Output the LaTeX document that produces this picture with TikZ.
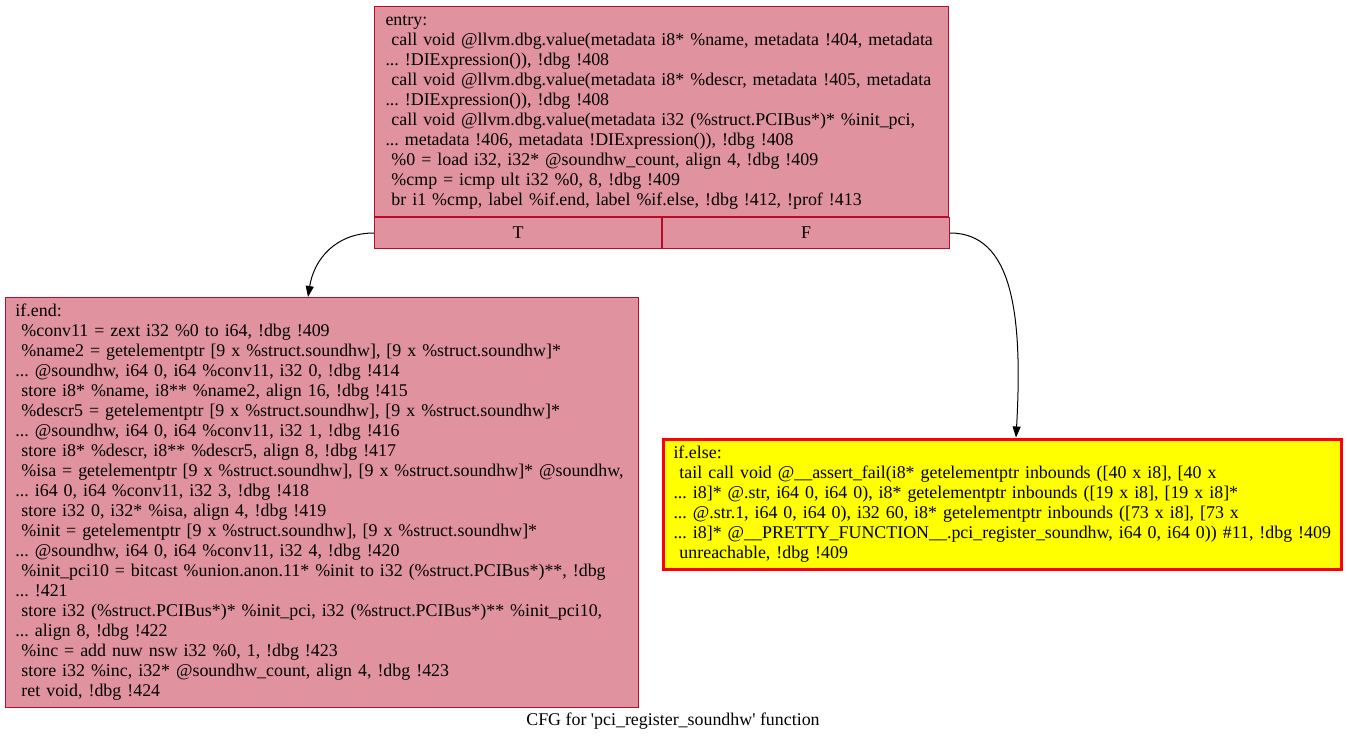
\documentclass[tikz,border=0pt]{standalone}
\usepackage{fontspec}
\setmainfont{Liberation Serif}[Ligatures=TeXOff]
\usetikzlibrary{arrows.meta,positioning}
\definecolor{heatfill}{RGB}{224,147,158}
\definecolor{heatline}{RGB}{183,13,40}
\definecolor{failfill}{RGB}{255,255,0}
\definecolor{failline}{RGB}{255,0,0}
\frenchspacing
\tikzset{
  block/.style={draw=heatline, fill=heatfill, line width=1pt, anchor=north west,
    inner xsep=11pt, inner ysep=0pt, align=left,
    font=\fontsize{17.9}{20}\selectfont},
  cell/.style={draw=heatline, fill=heatfill, line width=1pt, anchor=north west,
    minimum width=287pt, minimum height=31pt, inner sep=0pt,
    font=\fontsize{17.9}{20}\selectfont},
  failblock/.style={block, draw=failline, fill=failfill, line width=3pt},
  flow/.style={line width=1pt, -{Triangle[length=11pt,width=8pt]}}
}
\begin{document}
\begin{tikzpicture}[x=1pt,y=-1pt]
    \useasboundingbox (0,0) rectangle (1347,744);
    % entry block with its T / F row
    \node [block, text width=552pt, minimum height=210pt] (entry) at (374,6) {%
      \begin{tabular}{@{}l@{}}
      entry:\\
      \ call void @llvm.dbg.value(metadata i8* \%name, metadata !404, metadata\\
      ... !DIExpression()), !dbg !408\\
      \ call void @llvm.dbg.value(metadata i8* \%descr, metadata !405, metadata\\
      ... !DIExpression()), !dbg !408\\
      \ call void @llvm.dbg.value(metadata i32 (\%struct.PCIBus*)* \%init\_pci,\\
      ... metadata !406, metadata !DIExpression()), !dbg !408\\
      \ \%0 = load i32, i32* @soundhw\_count, align 4, !dbg !409\\
      \ \%cmp = icmp ult i32 \%0, 8, !dbg !409\\
      \ br i1 \%cmp, label \%if.end, label \%if.else, !dbg !412, !prof !413
      \end{tabular}};
    \node [cell] (entryT) at (entry.south west) {T};
    \node [cell] (entryF) at (entryT.north east) {F};
    % if.end
    \node [block, inner xsep=10pt, text width=613pt, minimum height=410pt] (ifend) at (5,297) {%
      \begin{tabular}{@{}l@{}}
      if.end:\\
      \ \%conv11 = zext i32 \%0 to i64, !dbg !409\\
      \ \%name2 = getelementptr [9 x \%struct.soundhw], [9 x \%struct.soundhw]*\\
      ... @soundhw, i64 0, i64 \%conv11, i32 0, !dbg !414\\
      \ store i8* \%name, i8** \%name2, align 16, !dbg !415\\
      \ \%descr5 = getelementptr [9 x \%struct.soundhw], [9 x \%struct.soundhw]*\\
      ... @soundhw, i64 0, i64 \%conv11, i32 1, !dbg !416\\
      \ store i8* \%descr, i8** \%descr5, align 8, !dbg !417\\
      \ \%isa = getelementptr [9 x \%struct.soundhw], [9 x \%struct.soundhw]* @soundhw,\\
      ... i64 0, i64 \%conv11, i32 3, !dbg !418\\
      \ store i32 0, i32* \%isa, align 4, !dbg !419\\
      \ \%init = getelementptr [9 x \%struct.soundhw], [9 x \%struct.soundhw]*\\
      ... @soundhw, i64 0, i64 \%conv11, i32 4, !dbg !420\\
      \ \%init\_pci10 = bitcast \%union.anon.11* \%init to i32 (\%struct.PCIBus*)**, !dbg\\
      ... !421\\
      \ store i32 (\%struct.PCIBus*)* \%init\_pci, i32 (\%struct.PCIBus*)** \%init\_pci10,\\
      ... align 8, !dbg !422\\
      \ \%inc = add nuw nsw i32 \%0, 1, !dbg !423\\
      \ store i32 \%inc, i32* @soundhw\_count, align 4, !dbg !423\\
      \ ret void, !dbg !424
      \end{tabular}};
    % if.else
    \node [failblock, inner xsep=10.5pt, text width=657pt, minimum height=130pt] (ifelse) at (661.5,437.5) {%
      \begin{tabular}{@{}l@{}}
      if.else:\\
      \ tail call void @\_\_assert\_fail(i8* getelementptr inbounds ([40 x i8], [40 x\\
      ... i8]* @.str, i64 0, i64 0), i8* getelementptr inbounds ([19 x i8], [19 x i8]*\\
      ... @.str.1, i64 0, i64 0), i32 60, i8* getelementptr inbounds ([73 x i8], [73 x\\
      ... i8]* @\_\_PRETTY\_FUNCTION\_\_.pci\_register\_soundhw, i64 0, i64 0)) \#11, !dbg !409\\
      \ unreachable, !dbg !409
      \end{tabular}};
    % edges
    \draw [flow] (entryT.west) .. controls +(-38,0) and +(6,-38) .. ([xshift=-14pt]ifend.north);
    \draw [flow] (entryF.east) .. controls +(62,0) and +(7,-125) .. ([xshift=14pt]ifelse.north);
    \node [font=\fontsize{17.9}{20}\selectfont] (title) at (673,721) {CFG for 'pci\_register\_soundhw' function};
  \end{tikzpicture}
\end{document}
